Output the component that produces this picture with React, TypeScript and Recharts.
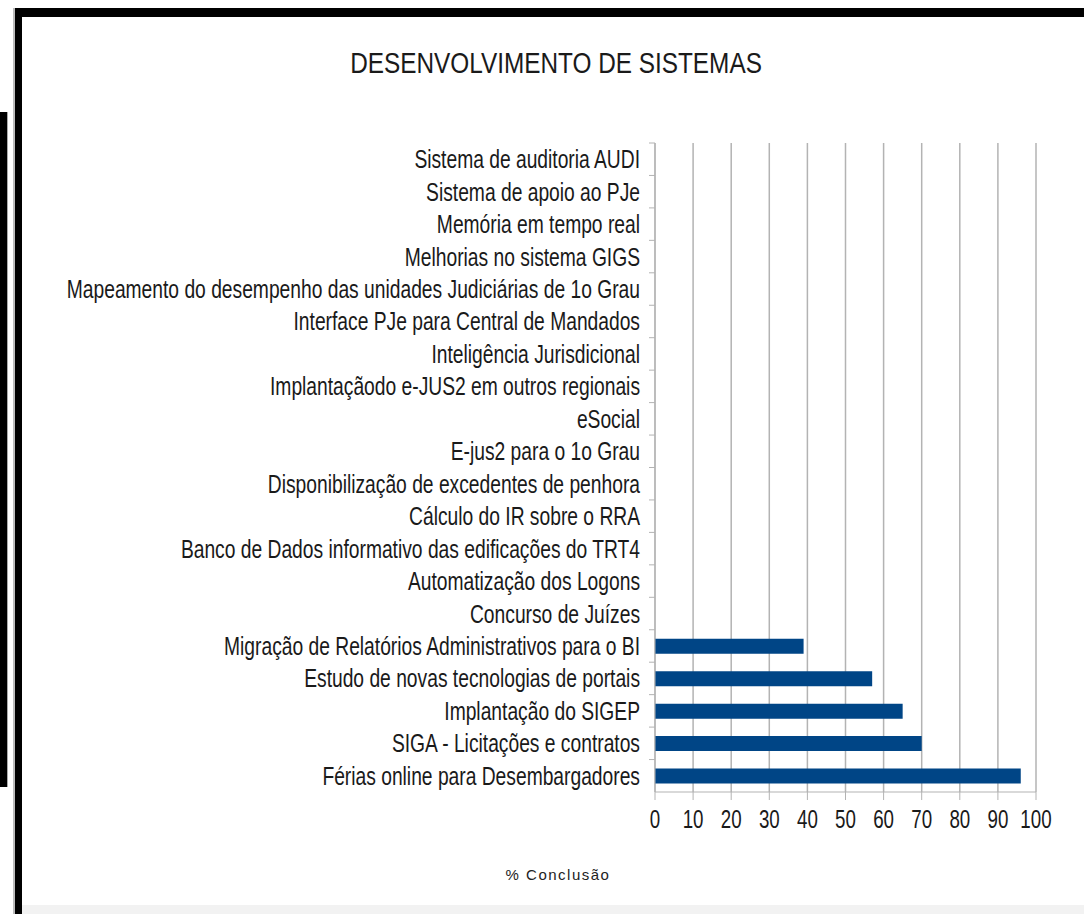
import React from "react";
import { BarChart, Bar, XAxis, YAxis, CartesianGrid } from "recharts";

const categories = [
  "Sistema de auditoria AUDI",
  "Sistema de apoio ao PJe",
  "Memória em tempo real",
  "Melhorias no sistema GIGS",
  "Mapeamento do desempenho das unidades Judiciárias de 1o Grau",
  "Interface PJe para Central de Mandados",
  "Inteligência Jurisdicional",
  "Implantaçãodo e-JUS2 em outros regionais",
  "eSocial",
  "E-jus2 para o 1o Grau",
  "Disponibilização de excedentes de penhora",
  "Cálculo do IR sobre o RRA",
  "Banco de Dados informativo das edificações do TRT4",
  "Automatização dos Logons",
  "Concurso de Juízes",
  "Migração de Relatórios Administrativos para o BI",
  "Estudo de novas tecnologias de portais",
  "Implantação do SIGEP",
  "SIGA - Licitações e contratos",
  "Férias online para Desembargadores",
];

const conclusao = [0, 0, 0, 0, 0, 0, 0, 0, 0, 0, 0, 0, 0, 0, 0, 39, 57, 65, 70, 96];

const xTicks = [0, 10, 20, 30, 40, 50, 60, 70, 80, 90, 100];

const title = "DESENVOLVIMENTO DE SISTEMAS";
const xLabel = "% Conclusão";

const data = categories.map((name, i) => ({ name, value: conclusao[i] }));

const W = 1084;
const H = 914;
const PLOT_LEFT = 655;
const PLOT_TOP = 143;
const PLOT_BOTTOM = 792;
const BAND = (PLOT_BOTTOM - PLOT_TOP) / categories.length;
const FONT = '"Liberation Sans", Arial, sans-serif';
const GRID = "#b3b3b3";

function YTick(props: any) {
  const { y, payload } = props;
  return (
    <g>
      <line x1={PLOT_LEFT - 6} x2={PLOT_LEFT} y1={y - BAND / 2} y2={y - BAND / 2} stroke={GRID} />
      <g transform={`translate(${PLOT_LEFT - 15},${y + 9})`}>
        <text
          transform="scale(0.77,1)"
          textAnchor="end"
          fontSize={25}
          fontFamily={FONT}
          fill="#1a1a1a"
        >
          {payload.value}
        </text>
      </g>
    </g>
  );
}

function XTick(props: any) {
  const { x, payload } = props;
  return (
    <g transform={`translate(${x},828)`}>
      <text transform="scale(0.75,1)" textAnchor="middle" fontSize={25} fontFamily={FONT} fill="#1a1a1a">
        {payload.value}
      </text>
    </g>
  );
}

export default function App() {
  return (
    <div style={{ position: "absolute", top: 0, left: 0, width: W, height: H, background: "#fff", overflow: "hidden" }}>
      <BarChart
        width={W}
        height={H}
        data={data}
        layout="vertical"
        margin={{ top: PLOT_TOP, right: W - 1036, bottom: 0, left: 0 }}
        barCategoryGap={0}
      >
        <CartesianGrid horizontal={false} stroke={GRID} strokeWidth={1.5} />
        <XAxis
          type="number"
          domain={[0, 100]}
          ticks={xTicks}
          height={H - PLOT_BOTTOM}
          tickSize={8}
          tickLine={{ stroke: GRID }}
          axisLine={{ stroke: GRID }}
          tick={<XTick />}
          interval={0}
        />
        <XAxis
          xAxisId="top"
          orientation="top"
          type="number"
          domain={[0, 100]}
          height={0}
          tick={false}
          tickLine={false}
          axisLine={{ stroke: GRID }}
        />
        <YAxis
          type="category"
          dataKey="name"
          width={PLOT_LEFT}
          tickLine={false}
          axisLine={{ stroke: GRID }}
          tick={<YTick />}
          interval={0}
        />
        <Bar dataKey="value" fill="#004586" barSize={15} isAnimationActive={false} />
      </BarChart>
      <svg width={W} height={H} style={{ position: "absolute", top: 0, left: 0, pointerEvents: "none" }}>
        <g transform="translate(556,73)">
          <text transform="scale(0.84,1)" textAnchor="middle" fontSize={29} fontFamily={FONT} fill="#1a1a1a">
            {title}
          </text>
        </g>
        <text x={558} y={880} textAnchor="middle" fontSize={15} letterSpacing={1.5} fontFamily={FONT} fill="#222">
          {xLabel}
        </text>
      </svg>
      <div style={{ position: "absolute", left: 13, top: 8, width: W - 13, height: 9, background: "#000" }} />
      <div style={{ position: "absolute", left: 13, top: 8, width: 2, height: H - 8, background: "#bbb" }} />
      <div style={{ position: "absolute", left: 15, top: 8, width: 7, height: H - 8, background: "#000" }} />
      <div style={{ position: "absolute", left: 0, top: 112, width: 7, height: 675, background: "#000" }} />
      <div style={{ position: "absolute", left: 7, top: 112, width: 1, height: 675, background: "#aaa" }} />
      <div style={{ position: "absolute", left: 22, top: 905, width: W - 22, height: 9, background: "#f2f2f2" }} />
    </div>
  );
}
